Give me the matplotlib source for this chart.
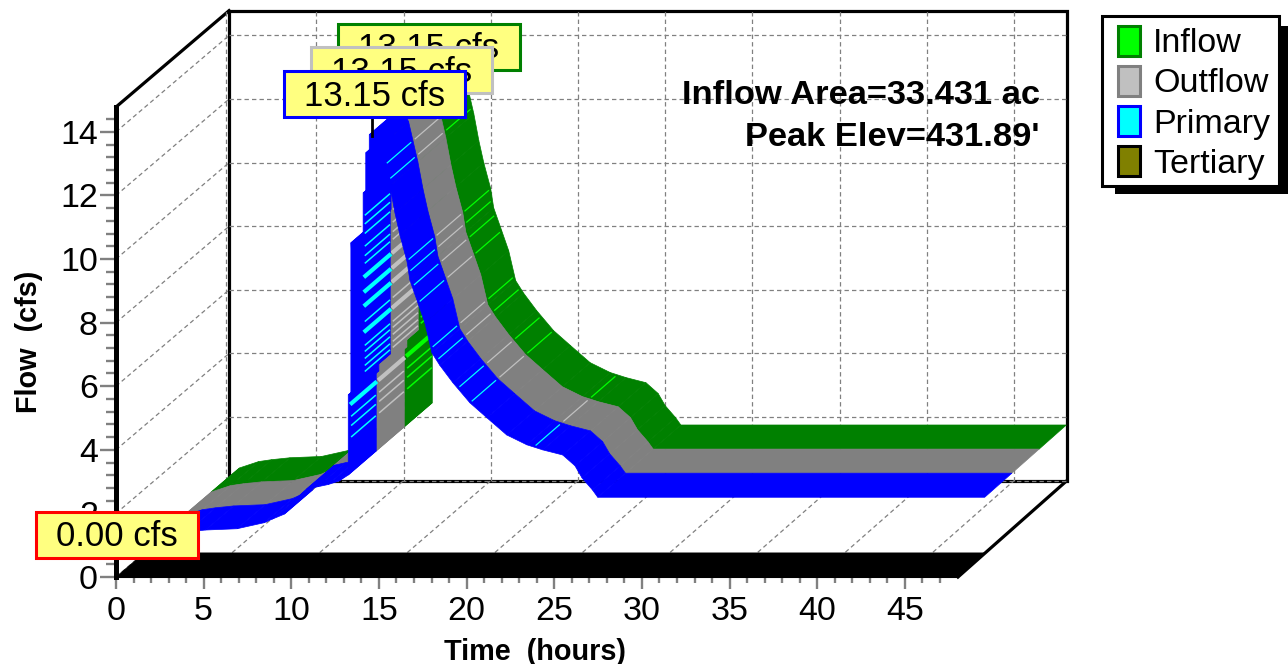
import numpy as np
import matplotlib
matplotlib.use('Agg')
import matplotlib.pyplot as plt
from matplotlib.patches import Rectangle
from matplotlib.transforms import Affine2D

plt.rcParams['font.family'] = ['Liberation Sans', 'DejaVu Sans']

# hydrograph (same curve for all three ribbons)
time_hours = [0, 0.6, 1.7, 2.45, 3.5, 5.3, 6.85, 7.3, 8.0, 8.6, 9.25, 9.9, 10.5, 11.12, 11.65, 11.65,
              11.8, 11.8, 12.45, 12.45, 12.5, 12.5, 12.65, 12.65, 12.85, 12.85, 13.2,
              13.5, 14.03, 14.32, 14.6, 15.0, 15.17, 15.63, 16.03, 16.43, 16.88, 17.63, 18.6, 19.57,
              20.7, 21.85, 22.76, 23.9, 24.6, 25.0, 25.6, 25.9, 48]
inflow = [0, 0.4, 0.6, 0.66, 0.72, 0.76, 0.95, 1.06, 1.22, 1.67, 2.0, 2.08, 2.15, 2.26, 2.45, 4.97,
          4.97, 9.75, 5.5, 10.0, 10.06, 11.32, 11.32, 12.58, 12.58, 13.15, 13.15,
          12.8, 11.54, 10.69, 10.0, 9.18, 8.58, 7.86, 7.23, 6.29, 5.9, 5.35, 4.72, 4.25,
          3.71, 3.4, 3.24, 3.08, 2.74, 2.36, 1.98, 1.75, 1.75]
outflow = list(inflow)
primary = list(inflow)
tertiary_hours = [0, 48]
tertiary = [0, 0]

# lighter seams between time steps
seam_low_flows = [3.6, 3.96, 4.25, 4.65]
seam_high_flows = [5.66, 5.85, 6.07, 6.29, 6.48, 6.92, 7.23, 7.74, 8.18, 8.65, 9.06, 9.3, 9.6, 10.0, 10.3, 10.57]
seam_thick_flows = [4.65, 6.92, 7.74, 8.18, 8.65]
seam_fall_hours = [13.75, 13.95, 15.0, 15.1, 15.3, 15.63, 16.37, 16.7, 17.9, 18.6, 22.25]

x_major = np.arange(0, 50, 5)
x_minor = np.arange(0, 48, 1)
y_major = np.arange(0, 16, 2)
y_minor = np.arange(0, 14.8, 0.4)

TOP = 14.78
RIGHT = 48.03

fig = plt.figure(figsize=(12.88, 6.64), dpi=100)
ax = fig.add_axes([116 / 1288, (664 - 577) / 664, 842 / 1288, 470 / 664])
ax.set_xlim(0, RIGHT)
ax.set_ylim(0, TOP)
ax.patch.set_alpha(0)
px = Affine2D().scale(1 / 1288, -1 / 664).translate(0, 1) + fig.transFigure


def proj(t, f, d):
    # depth d runs 0 (front) to 1 (back wall)
    t = np.asarray(t, dtype=float)
    f = np.asarray(f, dtype=float)
    return t * (1 - 0.005 * d) + 6.45 * d, f + 3.03 * d


def depth_line(t, f, d0=0, d1=1, **kw):
    a = proj(t, f, d0)
    b = proj(t, f, d1)
    ax.plot([a[0], b[0]], [a[1], b[1]], clip_on=False, **kw)


def sweep(t, f, d0, d1, color):
    t0, f0 = proj(t, f, d0)
    t1, f1 = proj(t, f, d1)
    for i in range(len(t) - 1):
        ax.fill([t0[i], t0[i + 1], t1[i + 1], t1[i]], [f0[i], f0[i + 1], f1[i + 1], f1[i]],
                color=color, lw=0.5, clip_on=False, zorder=3)


def ribbon(t, f, d0, d1, color, light):
    t = np.array(t)
    f = np.array(f)
    peak = int(np.argmax(f))
    sweep(t[:peak + 2], f[:peak + 2], d0, d1, color)
    for sf in seam_low_flows:
        lw = 3 if sf in seam_thick_flows else 1.1
        depth_line(11.72, sf, d0 + 0.02, d1 - 0.02, color=light, lw=lw, zorder=3)
    for sf in seam_high_flows:
        lw = 3 if sf in seam_thick_flows else 1.1
        depth_line(12.5, sf, d0 + 0.02, d1 - 0.015, color=light, lw=lw, zorder=3)
    sweep(t[peak + 1:], f[peak + 1:], d0, d1, color)
    fall_f = np.interp(seam_fall_hours, t[peak + 1:], f[peak + 1:])
    for st, sf in zip(seam_fall_hours, fall_f):
        depth_line(st, sf, d0 + 0.02, d1 - 0.02, color=light, lw=0.9, zorder=3)


# walls and grid
grid_kw = dict(color='#808080', lw=0.9, ls=(0, (3.5, 2.5)), zorder=1.6)
for tk in x_major:
    depth_line(tk, 0, **grid_kw)
    a = proj(tk - 0.15 * (tk == 0), 0, 1)
    b = proj(tk - 0.15 * (tk == 0), TOP, 1)
    ax.plot([a[0], b[0]], [a[1], b[1]], clip_on=False, **grid_kw)
for fk in y_major:
    if fk > 0:
        depth_line(0, fk, **grid_kw)
    a = proj(0, fk, 1)
    b = proj(RIGHT, fk, 1)
    ax.plot([a[0], b[0]], [a[1], b[1]], clip_on=False, **grid_kw)

frame_kw = dict(color='black', lw=2.3, zorder=1.5)
depth_line(0, TOP, **frame_kw)
depth_line(RIGHT, 0, **frame_kw)
c = [proj(0, 0, 1), proj(0, TOP, 1), proj(RIGHT, TOP, 1), proj(RIGHT, 0, 1), proj(0, 0, 1)]
ax.plot([p[0] for p in c], [p[1] for p in c], solid_joinstyle='miter', clip_on=False, **frame_kw)

# ribbons, back to front
ribbon(time_hours, inflow, 0.75, 1.0, '#008000', '#00ff00')
ribbon(time_hours, outflow, 0.5, 0.75, '#808080', '#c0c0c0')
ribbon(time_hours, primary, 0.25, 0.5, '#0000ff', '#00ffff')
sweep(np.array(tertiary_hours), np.array(tertiary), 0, 0.25, 'black')

# axes
for s in ['top', 'right']:
    ax.spines[s].set_visible(False)
ax.spines['left'].set_linewidth(3.6)
ax.spines['bottom'].set_linewidth(1.5)
ax.spines['left'].set_zorder(2)
ax.set_xticks(x_major)
ax.set_yticks(y_major)
ax.set_xticks(x_minor, minor=True)
ax.set_yticks(y_minor, minor=True)
ax.tick_params(axis='both', which='both', width=1.7, color='#808080', labelsize=24.5)
ax.tick_params(axis='x', which='major', length=8.5, pad=5)
ax.tick_params(axis='x', which='minor', length=4.5)
ax.tick_params(axis='y', which='major', length=11.5, pad=1.5)
ax.tick_params(axis='y', which='minor', length=7)
ax.set_xlabel('Time  (hours)', fontsize=20.8, fontweight='bold', va='center')
ax.set_ylabel('Flow  (cfs)', fontsize=20.8, fontweight='bold', va='center')
ax.xaxis.set_label_coords(535, 652, transform=px)
ax.yaxis.set_label_coords(29, 342, transform=px)

# notes
ax.text(1040, 104.5, 'Inflow Area=33.431 ac', transform=px, ha='right', va='baseline',
        fontsize=24.8, fontweight='bold', zorder=4)
ax.text(1040, 146, "Peak Elev=431.89'", transform=px, ha='right', va='baseline',
        fontsize=24.8, fontweight='bold', zorder=4)


def value_box(x0, y0, x1, y1, text, edge, z):
    ax.add_patch(Rectangle((x0, y0), x1 - x0, y1 - y0, transform=px, facecolor='#ffff80',
                           edgecolor=edge, lw=2.2, clip_on=False, zorder=z))
    ax.text((x0 + x1) / 2, y0 + 34.5, text, transform=px, ha='center', va='baseline',
            fontsize=25, zorder=z + 0.1)


ax.plot([372.5, 372.5], [117, 136], transform=px, color='black', lw=2, clip_on=False, zorder=5)
value_box(338, 24, 520, 70, '13.15 cfs', '#008000', 6)
value_box(311, 47, 492, 93, '13.15 cfs', '#c0c0c0', 7)
value_box(284, 71, 465, 117, '13.15 cfs', '#0000ff', 8)
value_box(36, 512, 198, 558, '0.00 cfs', '#ff0000', 9)

# legend
legend_names = ['Inflow', 'Outflow', 'Primary', 'Tertiary']
legend_faces = ['#00ff00', '#c0c0c0', '#00ffff', '#808000']
legend_edges = ['#008000', '#808080', '#0000ff', '#000000']
ax.add_patch(Rectangle((1115, 26), 173, 168, transform=px, facecolor='black', edgecolor='none',
                       clip_on=False, zorder=10))
ax.add_patch(Rectangle((1102.5, 16), 177, 170, transform=px, facecolor='white', edgecolor='black',
                       lw=2.2, clip_on=False, zorder=11))
for i, name in enumerate(legend_names):
    yy = 41 + 40 * i
    ax.add_patch(Rectangle((1118.5, yy - 15), 22, 30, transform=px, facecolor=legend_faces[i],
                           edgecolor=legend_edges[i], lw=2.2, clip_on=False, zorder=12))
    ax.text(1153, yy + 11.5, name, transform=px, ha='left', va='baseline', fontsize=24.5, zorder=12)

fig.savefig('out.png', dpi=100)
